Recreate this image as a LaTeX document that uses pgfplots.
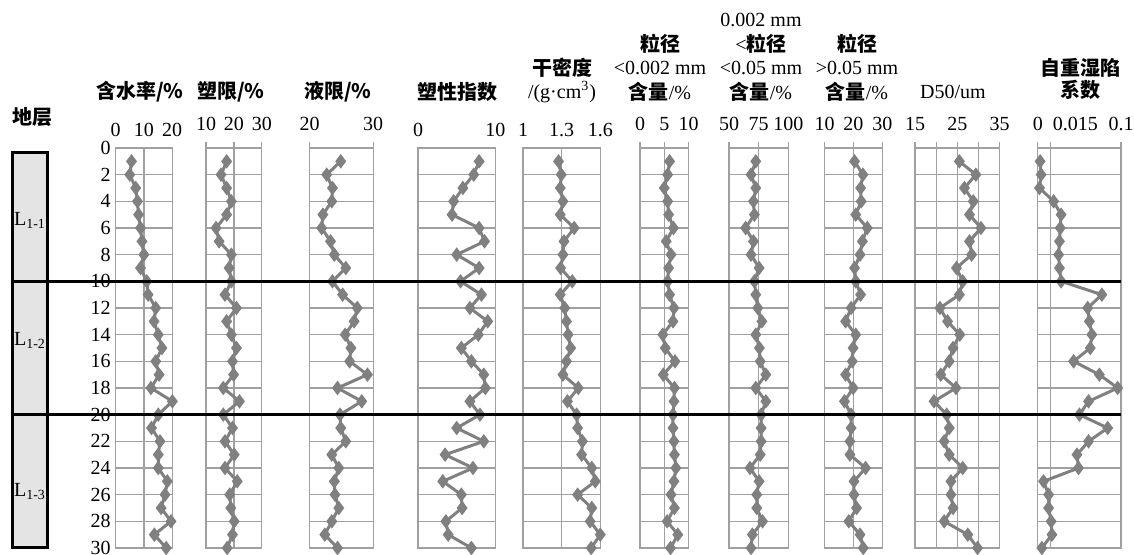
\documentclass[border=0pt]{standalone}
\usepackage{fontspec}
\setmainfont{Liberation Serif}
\newfontfamily\cjk{Noto Sans CJK SC}
\usepackage{pgfplots}
\usepackage{pgfplotstable}
\pgfplotsset{compat=1.18}

\definecolor{axgray}{RGB}{160,160,160}
\definecolor{dgray}{RGB}{128,128,128}
\definecolor{layerfill}{RGB}{228,228,228}

\pgfplotstableread{
d  w    pl   ll   pi  rho   c1  c2   c3   dfif dq
1  5.6  17.4 24.9 7.9 1.276 6.1 72.6 20.4 25.5 0.0028
2  5.0  15.4 22.7 7.2 1.297 5.7 68.6 23.3 29.4 0.0040
3  7.1  17.4 23.6 5.8 1.289 5.0 72.6 22.5 26.7 0.0020
4  7.7  19.1 23.5 4.6 1.310 5.7 70.6 22.7 28.8 0.019
5  8.1  17.4 22.1 4.4 1.289 5.9 71.4 20.8 27.9 0.028
6  8.8  13.6 21.9 7.9 1.397 6.9 64.0 24.8 30.6 0.027
7  9.3  14.7 23.3 8.6 1.318 5.4 70.6 23.1 27.9 0.026
8  10.0 19.1 23.9 5.0 1.310 6.4 68.6 22.3 28.4 0.025
9  8.8  18.3 25.7 7.9 1.292 5.9 75.4 20.4 24.8 0.026
10 11.0 19.1 23.6 5.5 1.382 5.7 71.4 20.8 26.3 0.028
11 11.5 16.8 25.2 8.2 1.289 6.1 72.6 22.5 25.5 0.077
12 14.2 20.9 27.5 6.7 1.324 7.0 74.3 19.2 20.9 0.060
13 13.6 17.4 27.0 9.0 1.337 6.8 77.7 17.3 22.7 0.062
14 15.1 19.1 25.6 7.8 1.350 4.7 72.6 20.8 25.6 0.065
15 16.4 20.9 26.5 5.6 1.370 5.2 75.6 19.9 24.0 0.063
16 14.2 19.5 26.3 6.9 1.337 7.2 76.3 19.6 23.1 0.043
17 15.4 19.9 29.1 8.5 1.310 4.8 81.1 17.3 21.1 0.074
18 12.5 16.2 24.4 8.7 1.429 7.1 72.6 19.9 24.7 0.096
19 20.1 22.0 28.2 6.7 1.345 7.0 81.1 16.9 19.5 0.061
20 15.1 16.2 24.8 8.0 1.416 6.8 77.1 19.2 22.5 0.050
21 12.7 19.5 24.9 5.0 1.424 6.8 77.1 19.2 23.1 0.084
22 15.7 16.8 25.7 8.5 1.461 7.0 77.1 18.8 21.9 0.061
23 15.1 20.1 23.5 3.5 1.455 7.1 76.3 18.8 23.1 0.047
24 15.1 16.8 24.6 7.1 1.534 7.4 67.7 24.2 26.3 0.049
25 18.3 21.2 23.9 3.2 1.561 7.0 75.4 20.2 23.5 0.0069
26 17.5 18.5 24.0 5.6 1.424 6.4 73.4 20.2 23.5 0.013
27 16.1 18.9 24.6 5.7 1.534 7.1 73.4 21.1 24.0 0.013
28 19.6 20.1 23.5 3.6 1.521 5.6 78.3 18.4 21.9 0.016
29 13.7 19.5 22.4 3.9 1.600 7.8 69.7 22.3 27.5 0.017
30 17.9 17.6 24.4 6.9 1.529 6.3 68.6 23.4 29.8 0.0049
}\soil

\pgfplotsset{
  panel/.style={
    scale only axis, width=#1, height=200pt, anchor=north west,
    y dir=reverse, ymin=0, ymax=30, ytick={0,2,...,30}, yticklabels={},
    ymajorgrids, xmajorgrids,
    axis line style={axgray, line width=0.6pt},
    grid style={axgray, line width=0.6pt},
    xticklabel pos=upper, xtick pos=upper,
    xtick align=outside,
    major tick length=3pt, minor tick length=3pt,
    tick style={axgray, line width=0.6pt},
    ytick style={draw=none},
    clip=false,
    /pgf/number format/assume math mode=true,
    tick label style={font=\fontsize{10}{12}\selectfont},
    xticklabel style={yshift=2pt},
  },
  dl/.style={dgray, line width=1.5pt, mark=diamond*, mark size=2.4pt, mark options={solid, fill=dgray}},
}

\begin{document}
\begin{tikzpicture}
\useasboundingbox (0pt,0pt) rectangle (567pt,-277.5pt);

% layer column
\draw[black, line width=1.5pt, fill=layerfill] (6.35pt,-76.35pt) rectangle (23.65pt,-140.67pt);
\draw[black, line width=1.5pt, fill=layerfill] (6.35pt,-140.67pt) rectangle (23.65pt,-207.33pt);
\draw[black, line width=1.5pt, fill=layerfill] (6.35pt,-207.33pt) rectangle (23.65pt,-273.5pt);
\node[font=\fontsize{10}{12}\selectfont] at (15pt,-110pt) {L\textsubscript{1-1}};
\node[font=\fontsize{10}{12}\selectfont] at (15pt,-170pt) {L\textsubscript{1-2}};
\node[font=\fontsize{10}{12}\selectfont] at (15pt,-246pt) {L\textsubscript{1-3}};
\node[font=\cjk\bfseries\fontsize{10}{12}\selectfont] at (16pt,-58.5pt) {地层};

% panel 1
\begin{axis}[panel=28.2pt, at={(57.85pt,-74pt)}, xmin=0, xmax=20, xtick={0,10,20}, xticklabels={0,10,20},
  major tick length=0pt, yticklabels={0,2,4,6,8,10,12,14,16,18,20,22,24,26,28,30},
  yticklabel style={xshift=1pt}]
\addplot[dl] table[x=w, y=d] {\soil};
\end{axis}
% panel 2
\begin{axis}[panel=27.9pt, at={(103pt,-74pt)}, xmin=10, xmax=30, xtick={10,20,30}, xticklabels={10,20,30}]
\addplot[dl] table[x=pl, y=d] {\soil};
\end{axis}
% panel 3
\begin{axis}[panel=31.85pt, at={(154.75pt,-74pt)}, xmin=20, xmax=30, xtick={20,30}, xticklabels={20,30}]
\addplot[dl] table[x=ll, y=d] {\soil};
\end{axis}
% panel 4
\begin{axis}[panel=38.7pt, at={(209pt,-74pt)}, xmin=0, xmax=10, xtick={0,10}, xticklabels={0,10}, major tick length=0pt]
\addplot[dl] table[x=pi, y=d] {\soil};
\end{axis}
% panel 5
\begin{axis}[panel=38.65pt, at={(261.5pt,-74pt)}, xmin=1, xmax=1.6, xtick={1,1.3,1.6}, xticklabels={1,1.3,1.6}, major tick length=0pt]
\addplot[dl] table[x=rho, y=d] {\soil};
\end{axis}
% panel 6
\begin{axis}[panel=24.25pt, at={(320pt,-74pt)}, xmin=0, xmax=10, xtick={0,5,10}, xticklabels={0,5,10}]
\addplot[dl] table[x=c1, y=d] {\soil};
\end{axis}
% panel 7
\begin{axis}[panel=29.65pt, at={(364.5pt,-74pt)}, xmin=50, xmax=100, xtick={50,75,100}, xticklabels={50,75,100}]
\addplot[dl] table[x=c2, y=d] {\soil};
\end{axis}
% panel 8
\begin{axis}[panel=28.9pt, at={(412.25pt,-74pt)}, xmin=10, xmax=30, xtick={10,20,30}, xticklabels={10,20,30}]
\addplot[dl] table[x=c3, y=d] {\soil};
\end{axis}
% panel 9
\begin{axis}[panel=42.25pt, at={(457.5pt,-74pt)}, xmin=15, xmax=35, xtick={15,25,35}, xticklabels={15,25,35},
  minor xtick={20,30}, xminorgrids, minor grid style={axgray, line width=0.6pt}]
\addplot[dl] table[x=dfif, y=d] {\soil};
\end{axis}
% panel 10
\begin{axis}[panel=41.6pt, at={(518.9pt,-74pt)}, xmin=0, xmax=0.1, xtick={0,0.015,0.1}, xticklabels={0,\hspace*{25pt}0.015,0.1}]
\addplot[dl] table[x=dq, y=d] {\soil};
\end{axis}

% layer boundaries
\draw[black, line width=1.5pt] (6.35pt,-140.67pt) -- (560.5pt,-140.67pt);
\draw[black, line width=1.5pt] (6.35pt,-207.33pt) -- (560.5pt,-207.33pt);

% headers
\begin{scope}[every node/.style={font=\fontsize{10}{12}\selectfont, inner sep=0pt}]
\node[font=\cjk\bfseries\fontsize{10}{12}\selectfont] at (70pt,-46pt) {含水率/\%};
\node[font=\cjk\bfseries\fontsize{10}{12}\selectfont] at (115.5pt,-46pt) {塑限/\%};
\node[font=\cjk\bfseries\fontsize{10}{12}\selectfont] at (169pt,-46pt) {液限/\%};
\node[font=\cjk\bfseries\fontsize{10}{12}\selectfont] at (228.5pt,-46pt) {塑性指数};
\node[font=\cjk\bfseries\fontsize{10}{12}\selectfont] at (281pt,-34pt) {干密度};
\node at (281pt,-46pt) {/(g·cm\textsuperscript{3})};
\node[font=\cjk\bfseries\fontsize{10}{12}\selectfont] at (330pt,-22pt) {粒径};
\node at (330pt,-34pt) {<0.002 mm};
\node at (330pt,-46pt) {{\cjk\bfseries 含量}/\%};
\node at (380.5pt,-10pt) {0.002 mm};
\node at (380.5pt,-22pt) {<{\cjk\bfseries 粒径}};
\node at (380.5pt,-34pt) {<0.05 mm};
\node at (380.5pt,-46pt) {{\cjk\bfseries 含量}/\%};
\node[font=\cjk\bfseries\fontsize{10}{12}\selectfont] at (428.5pt,-22pt) {粒径};
\node at (428.5pt,-34pt) {>0.05 mm};
\node at (428.5pt,-46pt) {{\cjk\bfseries 含量}/\%};
\node at (476.5pt,-46pt) {D50/um};
\node[font=\cjk\bfseries\fontsize{10}{12}\selectfont] at (540pt,-34pt) {自重湿陷};
\node[font=\cjk\bfseries\fontsize{10}{12}\selectfont] at (540pt,-45pt) {系数};
\end{scope}
\end{tikzpicture}
\end{document}
